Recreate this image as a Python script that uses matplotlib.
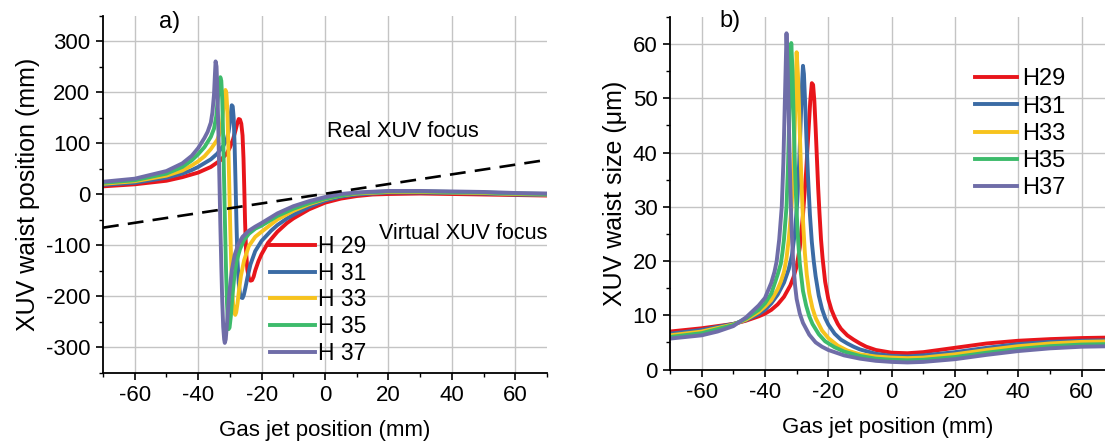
import matplotlib.pyplot as plt
from matplotlib.ticker import MultipleLocator

plt.rcParams['font.family'] = ['Liberation Sans', 'DejaVu Sans']
plt.rcParams['axes.unicode_minus'] = False

colors = ['#e8151b', '#3b6ba5', '#f7c31d', '#3dbb6b', '#6f6da8']
labels_a = ['H 29', 'H 31', 'H 33', 'H 35', 'H 37']
labels_b = ['H29', 'H31', 'H33', 'H35', 'H37']

# ---- panel a: XUV waist position (mm) vs gas jet position (mm)
x_a29 = [-70, -60, -50, -45, -40, -36, -33, -31, -30, -29, -28.2, -27.6, -27.2, -26.8, -26.4, -26.0, -25.7,
         -25.45, -25.2, -24.9, -24.5, -24.0, -23.5, -23.0, -22.5, -22.0, -21.0, -20.0, -18.0, -15.0, -12.0,
         -10.0, -5.0, 0.0, 5.0, 10.0, 15.0, 20.0, 30.0, 40.0, 50.0, 60.0, 70.0]
y_a29 = [15, 19, 26, 33, 42, 53, 66, 79, 91, 107, 125, 140, 147, 146, 138, 115, 70,
         10, -55, -110, -148, -165, -170, -169, -162, -150, -132, -118, -96, -74, -57,
         -48, -30, -17, -9, -4, -1, 0, 1, 0, -1, -2, -3]

x_a31 = [-70, -60, -50, -45, -42, -40, -36, -34, -32, -31, -30.4, -30.0, -29.7, -29.4, -29.1, -28.8, -28.5,
         -28.2, -27.9, -27.6, -27.2, -26.8, -26.4, -26.0, -25.6, -25.1, -24.5, -23.5, -22.0, -20.0, -17.0,
         -15.0, -12.0, -10.0, -5.0, 0.0, 5.0, 10.0, 20.0, 30.0, 40.0, 50.0, 60.0, 70.0]
y_a31 = [18, 22, 32, 40, 47, 53, 68, 79, 95, 107, 122, 139, 158, 174, 172, 150, 95,
         20, -60, -130, -175, -196, -203, -204, -198, -184, -165, -138, -112, -92, -72,
         -61, -48, -41, -25, -13, -5, -1, 3, 3, 2, 1, -1, -2]

x_a33 = [-70, -60, -50, -45, -42, -40, -38, -36, -34, -33, -32.5, -32.1, -31.7, -31.4, -31.1, -30.8, -30.5,
         -30.2, -29.9, -29.6, -29.3, -29.0, -28.6, -28.3, -28.0, -27.6, -27.1, -26.5, -25.5, -24.0, -22.0,
         -20.0, -15.0, -10.0, -5.0, 0.0, 5.0, 10.0, 20.0, 30.0, 40.0, 50.0, 60.0, 70.0]
y_a33 = [20, 25, 36, 46, 56, 64, 74, 88, 106, 122, 138, 164, 192, 204, 198, 165, 100,
         20, -60, -130, -185, -215, -233, -237, -232, -215, -188, -160, -130, -102, -84,
         -74, -50, -33, -20, -10, -3, 1, 4, 4, 3, 2, 0, -1]

x_a35 = [-70, -60, -50, -45, -42, -40, -38, -36, -35, -34.3, -33.8, -33.4, -33.0, -32.7, -32.4, -32.1, -31.8,
         -31.5, -31.2, -30.9, -30.6, -30.4, -30.1, -29.7, -29.2, -28.6, -27.8, -26.8, -25.5, -24.0, -22.0,
         -20.0, -15.0, -10.0, -5.0, 0.0, 5.0, 10.0, 20.0, 30.0, 40.0, 50.0, 60.0, 70.0]
y_a35 = [22, 27, 40, 53, 66, 78, 92, 112, 128, 152, 185, 215, 229, 222, 185, 110, 20,
         -70, -150, -215, -252, -265, -262, -240, -200, -162, -130, -108, -90, -78, -68,
         -62, -43, -29, -18, -9, -3, 2, 5, 5, 4, 3, 1, 0]

x_a37 = [-70, -60, -50, -45, -42, -40, -38, -37, -36, -35.5, -35.0, -34.7, -34.5, -34.2, -33.9, -33.6, -33.3,
         -33.0, -32.7, -32.4, -32.1, -31.8, -31.6, -31.3, -31.0, -30.6, -30.1, -29.4, -28.5, -27.3, -26.0,
         -24.0, -22.0, -20.0, -15.0, -10.0, -5.0, 0.0, 5.0, 10.0, 20.0, 30.0, 40.0, 50.0, 60.0, 70.0]
y_a37 = [24, 30, 45, 60, 75, 90, 110, 122, 140, 160, 195, 235, 260, 250, 195, 120, 30,
         -60, -140, -210, -260, -285, -292, -285, -262, -228, -190, -150, -120, -98, -84,
         -72, -64, -57, -38, -24, -14, -6, 0, 3, 6, 6, 5, 4, 2, 1]

focus_x = [-70, 70]
focus_y = [-66, 67]

# ---- panel b: XUV waist size (um) vs gas jet position (mm)
x_b29 = [-70, -60, -50, -46, -42, -40, -38, -36, -34, -32, -31, -30, -29, -28, -27, -26.3, -25.7, -25.2,
         -24.8, -24.4, -24.0, -23.6, -23.2, -22.8, -22.3, -21.8, -21.0, -20.0, -19.0, -18.0, -17.0, -16.0,
         -14.0, -12.0, -10.0, -8.0, -5.0, 0.0, 5.0, 10.0, 15.0, 20.0, 30.0, 40.0, 50.0, 60.0, 70.0]
y_b29 = [7.0, 7.6, 8.4, 9.0, 9.8, 10.3, 11.0, 12.0, 13.4, 15.5, 17.0, 19.0, 22.5, 28.5, 36.5, 43.5, 49.5, 52.8,
         52.5, 49.5, 44.5, 39.0, 33.5, 29.0, 24.0, 20.5, 16.2, 13.0, 11.0, 9.6, 8.4, 7.5,
         6.3, 5.5, 4.8, 4.2, 3.6, 3.1, 3.0, 3.2, 3.6, 4.0, 4.8, 5.3, 5.6, 5.8, 5.9]

x_b31 = [-70, -60, -50, -46, -42, -40, -38, -36, -34, -32.5, -31.5, -30.5, -29.8, -29.2, -28.7, -28.3, -28.0,
         -27.7, -27.3, -26.9, -26.4, -25.8, -25.2, -24.6, -24.0, -23.0, -22.0, -21.0, -20.0, -18.0, -16.0,
         -14.0, -12.0, -10.0, -5.0, 0.0, 5.0, 10.0, 20.0, 30.0, 40.0, 50.0, 60.0, 70.0]
y_b31 = [6.6, 7.3, 8.4, 9.1, 10.2, 11.0, 12.2, 13.8, 16.0, 18.5, 21.0, 25.5, 31.0, 38.0, 46.0, 52.5, 56.0,
         54.5, 49.0, 42.5, 35.5, 28.5, 23.5, 20.0, 17.2, 13.6, 11.2, 9.5, 8.3, 6.6, 5.5,
         4.8, 4.2, 3.7, 2.9, 2.5, 2.4, 2.6, 3.2, 4.0, 4.7, 5.1, 5.3, 5.4]

x_b33 = [-70, -60, -50, -46, -42, -40, -38, -36, -35, -34, -33.2, -32.5, -31.6, -31.0, -30.5, -30.0, -29.6,
         -29.2, -28.8, -28.4, -28.0, -27.4, -26.8, -26.0, -25.0, -24.0, -22.0, -20.0, -17.0, -14.0, -10.0,
         -5.0, 0.0, 5.0, 10.0, 20.0, 30.0, 40.0, 50.0, 60.0, 70.0]
y_b33 = [6.3, 7.0, 8.3, 9.2, 10.6, 11.6, 12.8, 14.8, 16.2, 18.0, 20.5, 24.0, 30.0, 37.0, 46.5, 58.5, 54.5,
         47.5, 40.0, 33.5, 27.5, 21.5, 17.5, 14.0, 11.3, 9.5, 7.2, 5.8, 4.4, 3.5, 2.8,
         2.4, 2.2, 2.1, 2.2, 2.8, 3.6, 4.3, 4.8, 5.1, 5.2]

x_b35 = [-70, -60, -50, -46, -42, -40, -38, -36, -35, -34.5, -34.0, -33.2, -32.7, -32.2, -31.7, -31.3, -30.9,
         -30.4, -30.0, -29.5, -29.0, -28.0, -27.0, -26.0, -25.0, -23.0, -21.0, -18.0, -15.0, -10.0, -5.0,
         0.0, 5.0, 10.0, 20.0, 30.0, 40.0, 50.0, 60.0, 70.0]
y_b35 = [6.0, 6.7, 8.2, 9.4, 11.0, 12.2, 14.0, 17.5, 19.5, 21.5, 24.0, 30.0, 38.0, 50.0, 60.2, 55.0, 45.0,
         35.0, 29.0, 23.5, 19.5, 14.5, 11.8, 9.8, 8.4, 6.5, 5.2, 4.1, 3.3, 2.5, 2.0,
         1.8, 1.7, 1.8, 2.3, 3.1, 3.8, 4.3, 4.6, 4.7]

x_b37 = [-70, -60, -55, -50, -46, -42, -40, -38, -37, -36.3, -35.5, -34.7, -34.2, -33.7, -33.2, -32.8, -32.4,
         -32.0, -31.6, -31.1, -30.5, -30.0, -29.0, -28.0, -26.0, -24.0, -22.0, -20.0, -15.0, -10.0, -5.0,
         0.0, 5.0, 10.0, 20.0, 30.0, 40.0, 50.0, 60.0, 70.0]
y_b37 = [5.7, 6.3, 7.0, 8.0, 9.6, 11.8, 13.2, 16.0, 18.0, 20.0, 24.0, 30.0, 38.0, 50.0, 62.0, 55.0, 44.0,
         34.0, 26.0, 20.0, 15.5, 13.0, 10.3, 8.6, 6.4, 5.0, 4.2, 3.6, 2.6, 2.0, 1.6,
         1.4, 1.3, 1.4, 1.9, 2.7, 3.4, 3.9, 4.2, 4.3]

series_a = [(x_a29, y_a29), (x_a31, y_a31), (x_a33, y_a33), (x_a35, y_a35), (x_a37, y_a37)]
series_b = [(x_b29, y_b29), (x_b31, y_b31), (x_b33, y_b33), (x_b35, y_b35), (x_b37, y_b37)]

fig = plt.figure(figsize=(11.05, 4.46), dpi=100)
ax_a = fig.add_axes([103 / 1105, 1 - 372.5 / 446, 444 / 1105, 357 / 446])
ax_b = fig.add_axes([670 / 1105, 1 - 369.5 / 446, 435 / 1105, 352.5 / 446])


def style_axes(ax):
    ax.grid(True, which='major', color='#c4c4c4', lw=1.0)
    ax.set_axisbelow(True)
    for side in ['top', 'right']:
        ax.spines[side].set_visible(False)
    for side in ['left', 'bottom']:
        ax.spines[side].set_linewidth(1.3)
    ax.tick_params(which='major', direction='out', length=5, width=1.2, labelsize=16, pad=4)
    ax.tick_params(which='minor', direction='out', length=3, width=1.0)
    ax.set_xlabel('Gas jet position (mm)', fontsize=16, labelpad=10)


lw = 2.8
for (xs, ys), c, lab in zip(series_a, colors, labels_a):
    ax_a.plot(xs, ys, color=c, lw=lw, label=lab, solid_joinstyle='round')
ax_a.plot(focus_x, focus_y, color='black', lw=1.9, dashes=(6, 3.5), zorder=5)

ax_a.set_xlim(-70, 70)
ax_a.set_ylim(-350, 350)
ax_a.xaxis.set_major_locator(MultipleLocator(20))
ax_a.xaxis.set_minor_locator(MultipleLocator(10))
ax_a.yaxis.set_major_locator(MultipleLocator(100))
ax_a.yaxis.set_minor_locator(MultipleLocator(50))
style_axes(ax_a)
ax_a.set_ylabel('XUV waist position (mm)', fontsize=18, labelpad=4)
ax_a.text(-49, 338, 'a)', fontsize=17, ha='center', va='center')
ax_a.text(0.5, 122, 'Real XUV focus', fontsize=15.5, ha='left', va='center')
ax_a.text(70, -78, 'Virtual XUV focus', fontsize=15.5, ha='right', va='center')
ax_a.legend(loc='upper left', bbox_to_anchor=(0.376, 0.385), frameon=False, fontsize=16.5,
            handlelength=1.97, handletextpad=0.13, labelspacing=0.16, borderpad=0, borderaxespad=0)

for (xs, ys), c, lab in zip(series_b, colors, labels_b):
    ax_b.plot(xs, ys, color=c, lw=lw, label=lab, solid_joinstyle='round')

ax_b.set_xlim(-70, 67.4)
ax_b.set_ylim(0, 65)
ax_b.xaxis.set_major_locator(MultipleLocator(20))
ax_b.xaxis.set_minor_locator(MultipleLocator(10))
ax_b.yaxis.set_major_locator(MultipleLocator(10))
ax_b.yaxis.set_minor_locator(MultipleLocator(5))
style_axes(ax_b)
ax_b.set_ylabel('XUV waist size (\u03bcm)', fontsize=18, labelpad=4)
ax_b.text(-51, 64.3, 'b)', fontsize=17, ha='center', va='center')
ax_b.legend(loc='upper left', bbox_to_anchor=(0.701, 0.854), frameon=False, fontsize=17,
            handlelength=1.8, handletextpad=0.2, labelspacing=0.22, borderpad=0, borderaxespad=0)

fig.savefig('out.png', dpi=100)
